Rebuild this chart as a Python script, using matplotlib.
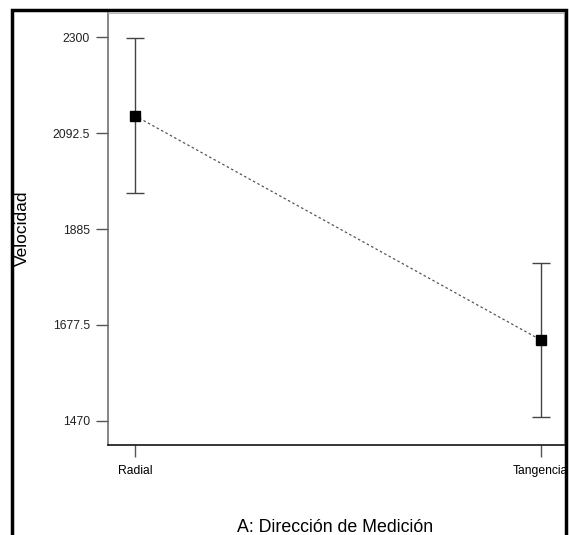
import matplotlib.pyplot as plt
from matplotlib.patches import Rectangle

plt.rcParams['font.family'] = ['Liberation Sans', 'DejaVu Sans']

# Data
categories = ['Radial', 'Tangencia']
means = [2130, 1645]
errors = [167, 167]
y_ticks = [1470, 1677.5, 1885, 2092.5, 2300]
y_tick_labels = ['1470', '1677.5', '1885', '2092.5', '2300']

fig = plt.figure(figsize=(5.69, 5.35), dpi=100)
ax = fig.add_axes([108 / 569, 1 - 445 / 535, 456 / 569, 432 / 535])

x = list(range(len(categories)))

# dotted line joining the means
ax.plot(x, means, linestyle=(0, (2, 2)), color='#555555', linewidth=0.9)
ax.errorbar(x, means, yerr=errors, fmt='s', color='black', ecolor='#444444',
            elinewidth=1.0, capsize=6.5, capthick=1.0, markersize=7)

ax.set_xlim(-0.066, 1.057)
ax.set_ylim(1418, 2352)
ax.set_xticks(x)
ax.set_xticklabels(categories, fontsize=8.7)
ax.set_yticks(y_ticks)
ax.set_yticklabels(y_tick_labels, fontsize=8.7, color='#222222')
ax.tick_params(axis='both', direction='out', length=8.6, width=1.0, color='#555555')
ax.tick_params(axis='y', pad=4.3)
ax.tick_params(axis='x', pad=5.5)

ax.spines['left'].set_color('#666666')
ax.spines['left'].set_linewidth(1.1)
ax.spines['bottom'].set_color('black')
ax.spines['bottom'].set_linewidth(1.1)
ax.spines['top'].set_color('#bbbbbb')
ax.spines['right'].set_color('#bbbbbb')

fig.text(22 / 569, 1 - 228 / 535, 'Velocidad', rotation=90, fontsize=12.5,
         ha='center', va='center', color='black')
fig.text(335 / 569, 1 - 527 / 535, 'A: Dirección de Medición', fontsize=12.8,
         ha='center', va='center', color='black')

# outer black frame around the chart
frame = Rectangle((12 / 569, -0.05), (566 - 12) / 569, 1.05 - 10 / 535,
                  transform=fig.transFigure, fill=False, edgecolor='black',
                  linewidth=2.5, clip_on=False)
fig.patches.append(frame)

plt.savefig('out.png', dpi=100)
